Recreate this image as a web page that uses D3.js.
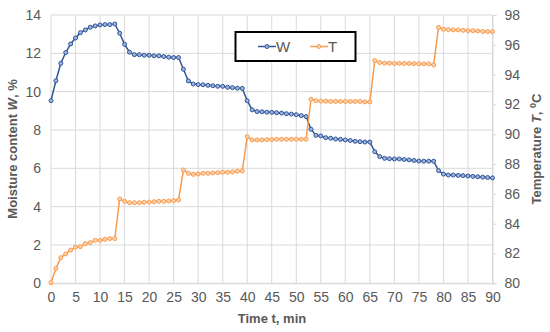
<!DOCTYPE html>
<html><head><meta charset="utf-8">
<script src="https://cdn.jsdelivr.net/npm/d3@7"></script>
<style>body{margin:0;background:#fff;} svg{display:block;font-family:Arial,"Liberation Sans",sans-serif;}</style>
</head><body>
<svg id="c" width="550" height="332"></svg>
<script>
const time = d3.range(0, 91);
const moisture = [9.53,10.57,11.48,12.04,12.49,12.8,13.08,13.22,13.36,13.43,13.48,13.5,13.5,13.53,13.05,12.47,12.06,11.93,11.93,11.9,11.9,11.87,11.87,11.83,11.8,11.78,11.78,11.17,10.56,10.4,10.37,10.36,10.33,10.31,10.28,10.28,10.23,10.21,10.18,10.17,9.53,9.05,8.96,8.95,8.93,8.92,8.9,8.88,8.85,8.83,8.8,8.75,8.7,8.04,7.72,7.69,7.6,7.57,7.53,7.51,7.48,7.45,7.41,7.39,7.37,7.37,6.87,6.61,6.52,6.5,6.49,6.49,6.46,6.44,6.41,6.38,6.37,6.37,6.37,5.88,5.7,5.65,5.65,5.63,5.62,5.6,5.58,5.56,5.54,5.52,5.5];
const temperature = [80.04,81.0,81.72,81.97,82.23,82.42,82.46,82.66,82.73,82.88,82.88,82.95,83.0,83.0,85.66,85.5,85.41,85.41,85.41,85.43,85.45,85.47,85.5,85.5,85.52,85.55,85.59,87.6,87.38,87.31,87.33,87.38,87.38,87.4,87.42,87.45,87.45,87.47,87.52,87.54,89.84,89.62,89.62,89.62,89.64,89.64,89.66,89.66,89.66,89.66,89.66,89.66,89.66,92.35,92.25,92.22,92.22,92.2,92.2,92.2,92.2,92.2,92.2,92.2,92.17,92.17,94.94,94.81,94.77,94.77,94.75,94.75,94.75,94.75,94.74,94.73,94.72,94.72,94.65,97.17,97.05,97.02,97.0,97.0,96.97,96.95,96.95,96.93,96.9,96.89,96.88];
const xTicks = d3.range(0, 91, 5);
const wTicks = d3.range(0, 15, 2);
const tTicks = d3.range(80, 99, 2);

const svg = d3.select("#c");
const L = 51, R = 492.5, T = 15, B = 283.3;
const x = d3.scaleLinear().domain([0, 90]).range([L, R]);
const yW = d3.scaleLinear().domain([0, 14]).range([B, T]);
const yT = d3.scaleLinear().domain([80, 98]).range([B, T]);
const grid = "#d9d9d9", txt = "#595959";
const blue = "#2F5597", orange = "#F79B4F";

// gridlines
svg.append("g").selectAll("line").data(wTicks).join("line")
  .attr("x1", L).attr("x2", R).attr("y1", d => yW(d)).attr("y2", d => yW(d))
  .attr("stroke", grid).attr("stroke-width", 1);
svg.append("g").selectAll("line").data(xTicks).join("line")
  .attr("x1", d => x(d)).attr("x2", d => x(d)).attr("y1", T).attr("y2", B)
  .attr("stroke", grid).attr("stroke-width", 1);

// axes
const gx = svg.append("g").attr("transform", `translate(0,${B})`)
  .call(d3.axisBottom(x).tickValues(xTicks).tickSize(0).tickPadding(9));
const gl = svg.append("g").attr("transform", `translate(${L},0)`)
  .call(d3.axisLeft(yW).tickValues(wTicks).tickSize(0).tickPadding(10));
const gr = svg.append("g").attr("transform", `translate(${R},0)`)
  .call(d3.axisRight(yT).tickValues(tTicks).tickSize(4).tickPadding(8));
[gx, gl, gr].forEach(g => {
  g.select(".domain").attr("stroke", grid);
  g.selectAll(".tick line").attr("stroke", grid);
  g.selectAll("text").attr("fill", txt).style("font-size", "14px").style("font-family", "Arial, 'Liberation Sans', sans-serif");
});
gl.select(".domain").remove();

// lines
function series(vals, y, color, fill) {
  const data = time.map((t, i) => [t, vals[i]]);
  svg.append("path").datum(data)
    .attr("fill", "none").attr("stroke", color).attr("stroke-width", 1.5)
    .attr("d", d3.line().x(d => x(d[0])).y(d => y(d[1])));
  svg.append("g").selectAll("circle").data(data).join("circle")
    .attr("cx", d => x(d[0])).attr("cy", d => y(d[1])).attr("r", 2)
    .attr("fill", fill).attr("stroke", color).attr("stroke-width", 1);
}
series(moisture, yW, blue, "#9fb4dc");
series(temperature, yT, orange, "#fcd2ad");

// legend
const lg = svg.append("g");
lg.append("rect").attr("x", 235.5).attr("y", 32).attr("width", 120).attr("height", 29)
  .attr("fill", "#fff").attr("stroke", "#000").attr("stroke-width", 2);
const items = [{n: "W", c: blue, f: "#9fb4dc", x0: 258}, {n: "T", c: orange, f: "#fcd2ad", x0: 310}];
items.forEach(it => {
  lg.append("line").attr("x1", it.x0).attr("x2", it.x0 + 18).attr("y1", 46.5).attr("y2", 46.5)
    .attr("stroke", it.c).attr("stroke-width", 1.5);
  lg.append("circle").attr("cx", it.x0 + 9).attr("cy", 46.5).attr("r", 2)
    .attr("fill", it.f).attr("stroke", it.c);
  lg.append("text").attr("x", it.x0 + 18).attr("y", 52).text(it.n)
    .attr("fill", txt).style("font-size", "15px");
});

// axis titles
svg.append("text").attr("x", 272).attr("y", 323).attr("text-anchor", "middle")
  .attr("fill", txt).style("font-size", "13px").style("font-weight", "bold").text("Time t, min");
const lt = svg.append("text").attr("transform", "translate(17,149) rotate(-90)")
  .attr("text-anchor", "middle").attr("fill", txt).style("font-size", "13px").style("font-weight", "bold");
lt.append("tspan").text("Moisture content ");
lt.append("tspan").style("font-style", "italic").text("W");
lt.append("tspan").text(", %");
const rt = svg.append("text").attr("transform", "translate(541,149) rotate(-90)")
  .attr("text-anchor", "middle").attr("fill", txt).style("font-size", "13px").style("font-weight", "bold");
rt.append("tspan").text("Temperature ");
rt.append("tspan").style("font-style", "italic").text("T");
rt.append("tspan").text(", ");
rt.append("tspan").attr("dy", -5).style("font-size", "9px").text("0");
rt.append("tspan").attr("dy", 5).text("C");
</script>
</body></html>
